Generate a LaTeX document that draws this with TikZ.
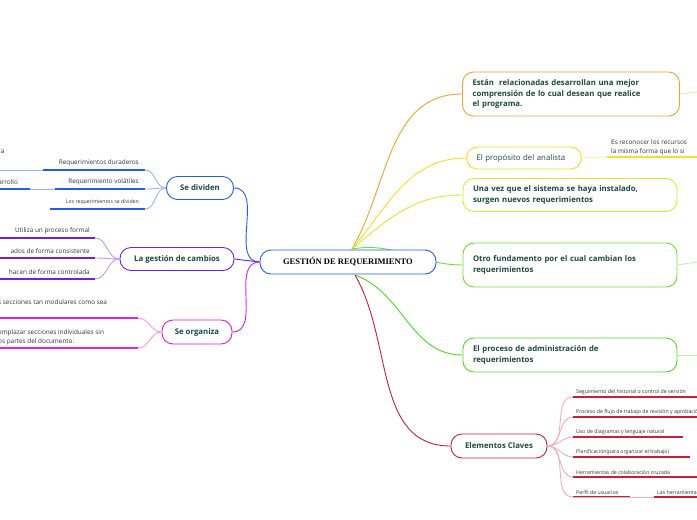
\documentclass[tikz,border=0pt]{standalone}
\usepackage{fontspec}
\setmainfont{Open Sans}
\newfontfamily\serifb{Liberation Serif}
\begin{document}
\begin{tikzpicture}[x=1pt,y=-1pt,
  box/.style={draw,rounded corners=11pt,line width=0.9pt,fill=white,text=txt,font=\fontsize{7.8}{10.5}\selectfont\bfseries,inner xsep=10pt,inner ysep=5pt,align=left},
  wbox/.style={box,text width=#1,minimum width=0pt},
  lbl/.style={anchor=south west,inner sep=1pt,text=black!80,font=\fontsize{6.4}{8.5}\selectfont,align=left},
  sml/.style={anchor=south west,inner sep=1pt,text=black!80,font=\fontsize{5.2}{6.5}\selectfont},
  br/.style={line width=0.9pt},
  ul/.style={line width=1.3pt}]
\definecolor{txt}{HTML}{1C4A3C}
\definecolor{cor}{HTML}{F7A030}\definecolor{cye}{HTML}{F2E02A}\definecolor{cli}{HTML}{D2F030}
\definecolor{cgr}{HTML}{70E030}\definecolor{cgr2}{HTML}{50DC20}\definecolor{cre}{HTML}{C8203C}
\definecolor{cbl}{HTML}{2060E8}\definecolor{cpu}{HTML}{7020E0}\definecolor{cma}{HTML}{E020E0}
\useasboundingbox (0,0) rectangle (697,520);
% center
\coordinate (r0) at (352,249);
\coordinate (rb) at (355,275);
% right nodes
\node[wbox=197pt,draw=cor,minimum height=44pt,inner xsep=10pt] (o) at (571,94) {Están \ relacionadas desarrollan una mejor\\comprensión de lo cual desean que realice\\el programa.};
\node[wbox=95pt,draw=cye,minimum height=22pt,font=\fontsize{7.8}{10}\selectfont] (y) at (524,158) {El propósito del analista};
\node[wbox=194pt,draw=cli,minimum height=33pt] (li) at (570,195) {Una vez que el sistema se haya instalado,\\surgen nuevos requerimientos};
\node[wbox=194pt,draw=cgr,minimum height=44pt] (g) at (570,265) {Otro fundamento por el cual cambian los\\requerimientos};
\node[wbox=194pt,draw=cgr2,minimum height=34pt] (g2) at (570,355) {El proceso de administración de\\requerimientos};
\node[box,draw=cre,minimum width=96pt,minimum height=24pt,align=center] (e) at (499,446) {Elementos Claves};
\draw[br,cor] (r0) to[out=60,in=180] (o.west);
\draw[br,cye] (r0) to[out=50,in=180] (y.west);
\draw[br,cli] (r0) to[out=40,in=180] (li.west);
\draw[br,cgr] (r0) to[out=10,in=180] (g.west);
\draw[br,cgr2] (rb) to[out=-20,in=180] (g2.west);
\draw[br,cre] (rb) to[out=-60,in=180] (e.west);
\draw[br,cor!40] (o.east) -- (697,92);
\draw[br,cgr!40] (g.east) -- (697,262);
\draw[br,cgr2!40] (g2.east) -- (697,355);
% yellow child
\coordinate (ys) at (607,157);
\draw[br,cye!40] (y.east) -- (ys);
\draw[ul,cye] (ys) -- (697,157);
\node[lbl] (yt) at (610,156) {Es reconocer los recursos\\la misma forma que lo si};
% red children
\foreach \i/\t/\xe in {1/Seguimiento del historial o control de versión/697,2/Proceso de flujo de trabajo de revisión y aprobación/697,3/Uso de diagramas y lenguaje natural/683,4/Planificación(para organizar el trabajo)/690,5/Herramientas de colaboración cruzada/697}{
  \coordinate (ec\i) at (573,{377+20*\i});
  \draw[br,cre!35] (e.east) to[out=0,in=180] (ec\i);
  \draw[ul,cre] (ec\i) -- (\xe,{377+20*\i});
  \node[sml] (et\i) at (575,{376+20*\i}) {\t};
}
\coordinate (ec6) at (573,497);
\draw[br,cre!35] (e.east) to[out=0,in=180] (ec6);
\draw[ul,cre] (ec6) -- (630,497);
\node[sml] (et6) at (575,496) {Perfil de usuarios};
\coordinate (ec7) at (654,497);
\draw[br,cre!35] (ec6) -- (ec7);
\draw[ul,cre] (ec7) -- (697,497);
\node[sml] (et7) at (656,496) {Las herramientas};
% center node
\node[box,draw=cbl,minimum width=176pt,minimum height=24pt,font=\serifb\fontsize{8.5}{10}\selectfont\bfseries,text=black,align=center] (c) at (348,262) {GESTIÓN DE REQUERIMIENTO};
% left nodes
\node[box,draw=cbl,minimum width=67pt,minimum height=23pt,align=center] (d) at (200,188) {Se dividen};
\node[box,draw=cpu,minimum width=114pt,minimum height=23pt,align=center] (gc) at (177,259) {La gestión de cambios};
\node[box,draw=cma,minimum width=70pt,minimum height=24pt,align=center] (so) at (197,332) {Se organiza};
\draw[br,cbl] (c.west) to[out=180,in=0] (d.east);
\draw[br,cpu] (c.west) -- (gc.east);
\draw[br,cma] (c.west) to[out=180,in=0] (so.east);
% Se dividen children
\coordinate (d1) at (145,170);\coordinate (d2) at (145,189);\coordinate (d3) at (145,209);
\foreach \k in {1,2,3}{\draw[br,cbl!45] (d.west) to[out=180,in=0] (d\k);}
\draw[ul,cbl] (d1) -- (43,170); \draw[br,cbl!45] (43,170) -- (0,170);
\draw[ul,cbl] (d2) -- (55,189); \draw[br,cbl!45] (55,189) -- (30,189); \draw[ul,cbl] (30,189) -- (0,189);
\draw[ul,cbl] (d3) -- (50,209);
\node[lbl,anchor=south east] (dt1) at (140,167) {Requerimientos duraderos};
\node[lbl,anchor=south east] (dt2) at (140,186) {Requerimiento volátiles};
\node[sml,anchor=south east] (dt3) at (140,206) {Los requerimientos se dividen};
\node[lbl,anchor=south west] (dt0) at (-2,155) {ia};
\node[lbl,anchor=south west] (dt4) at (-6,186) {sarrollo};
% gestion children
\coordinate (g1) at (95,238);\coordinate (g2c) at (95,258);\coordinate (g3) at (95,279);
\foreach \k in {g1,g2c,g3}{\draw[br,cpu!45] (gc.west) to[out=180,in=0] (\k);}
\draw[ul,cpu] (g1) -- (0,238); \draw[ul,cpu] (g2c) -- (0,258); \draw[ul,cpu] (g3) -- (0,279);
\node[lbl,anchor=south east] (gt1) at (91,235) {Utiliza un proceso formal};
\node[lbl,anchor=south east] (gt2) at (91,255) {ados de forma consistente};
\node[lbl,anchor=south east] (gt3) at (91,276) {hacen de forma controlada};
% organiza children
\coordinate (s1) at (138,318);\coordinate (s2) at (138,348);
\foreach \k in {s1,s2}{\draw[br,cma!45] (so.west) to[out=180,in=0] (\k);}
\draw[ul,cma] (s1) -- (0,318); \draw[ul,cma] (s2) -- (0,348);
\node[lbl,anchor=south west] (st1) at (-3,306) {s secciones tan modulares como sea};
\node[lbl,anchor=south west] (st2) at (-3,346) {emplazar secciones individuales sin\\os partes del documento.};
\end{tikzpicture}
\end{document}
